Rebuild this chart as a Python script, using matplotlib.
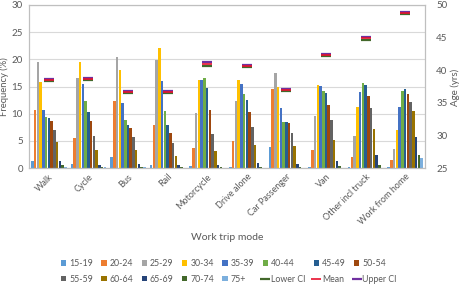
import matplotlib
matplotlib.use("Agg")
import matplotlib.pyplot as plt
import numpy as np

plt.rcParams['font.family'] = ['Lato', 'DejaVu Sans']

modes = ["Walk", "Cycle", "Bus", "Rail", "Motorcycle", "Drive alone",
         "Car Passenger", "Van", "Other incl truck", "Work from home"]
age_groups = ["15-19", "20-24", "25-29", "30-34", "35-39", "40-44", "45-49",
              "50-54", "55-59", "60-64", "65-69", "70-74", "75+"]

# frequency (%) per mode (rows) for each age group (columns)
walk      = [1.3, 10.7, 19.5, 15.8, 10.7, 9.3, 9.2, 8.7, 7.0, 4.7, 1.3, 0.5, 0.2]
cycle     = [0.7, 5.5, 16.5, 19.5, 15.4, 12.4, 10.3, 8.7, 5.9, 3.3, 0.5, 0.2, 0.1]
bus       = [2.0, 12.3, 20.4, 18.0, 11.9, 8.8, 7.9, 7.3, 5.7, 3.4, 0.8, 0.2, 0.1]
rail      = [0.5, 7.9, 19.9, 22.0, 16.1, 10.5, 8.0, 6.5, 4.6, 2.3, 0.5, 0.1, 0.05]
motorcycle = [0.3, 3.6, 10.2, 16.2, 16.2, 16.6, 14.8, 10.7, 6.2, 3.2, 0.5, 0.1, 0.05]
drive_alone = [0.2, 4.9, 12.3, 16.2, 15.5, 13.7, 12.5, 10.3, 7.5, 4.2, 1.0, 0.2, 0.05]
car_passenger = [3.8, 14.6, 17.4, 14.9, 11.0, 8.5, 8.4, 8.2, 6.5, 4.0, 0.8, 0.2, 0.05]
van       = [0.2, 3.4, 9.6, 15.2, 15.1, 14.2, 13.8, 11.6, 8.8, 5.2, 1.3, 0.3, 0.05]
other_truck = [0.1, 2.0, 5.9, 11.3, 14.0, 15.7, 15.3, 13.3, 11.0, 7.1, 2.4, 0.5, 0.05]
work_home = [0.2, 1.5, 3.5, 7.0, 11.2, 14.1, 14.6, 13.7, 12.2, 10.5, 5.7, 2.4, 1.9]

mean_age = [38.5, 38.7, 36.6, 36.7, 40.9, 40.7, 36.9, 42.3, 44.9, 48.8]
lower_ci = [38.35, 38.55, 36.45, 36.55, 40.6, 40.55, 36.75, 42.15, 44.65, 48.6]
upper_ci = [38.65, 38.85, 36.75, 36.85, 41.2, 40.85, 37.05, 42.45, 45.15, 49.0]

data = np.array([walk, cycle, bus, rail, motorcycle, drive_alone,
                 car_passenger, van, other_truck, work_home])

colors = ["#5B9BD5", "#ED7D31", "#A5A5A5", "#FFC000", "#4472C4", "#70AD47",
          "#255E91", "#9E480E", "#636363", "#997300", "#264478", "#43682B",
          "#7CAFDD"]

txt = "#595959"
fig = plt.figure(figsize=(4.69, 2.86), dpi=100)
ax = fig.add_axes([29/469, 1-168/286, (425-29)/469, (168-5)/286])
ax2 = ax.twinx()

n = len(age_groups)
x = np.arange(len(modes))
group_w = 0.9
w = group_w / n
bar_handles = []
for i in range(n):
    b = ax.bar(x - group_w/2 + w*(i+0.5), data[:, i], width=w*0.92,
               color=colors[i], label=age_groups[i], zorder=2)
    bar_handles.append(b)

ms = 6.5
l1, = ax2.plot(x, lower_ci, linestyle='none', marker='_', markersize=ms,
               markeredgewidth=1.6, color="#43682B", label="Lower CI", zorder=3)
l3, = ax2.plot(x, upper_ci, linestyle='none', marker='_', markersize=ms,
               markeredgewidth=1.6, color="#7030A0", label="Upper CI", zorder=3)
l2, = ax2.plot(x, mean_age, linestyle='none', marker='_', markersize=ms,
               markeredgewidth=1.2, color="#E8112D", label="Mean", zorder=4)

ax.set_ylim(0, 30)
ax.set_yticks(np.arange(0, 31, 5))
ax2.set_ylim(25, 50)
ax2.set_yticks(np.arange(25, 51, 5))
ax.set_xlim(-0.5, len(modes) - 0.5)
ax.grid(axis='y', color="#D9D9D9", linewidth=0.8, zorder=0)
ax.set_axisbelow(True)

ax.set_xticks(x)
ax.set_xticklabels(modes, rotation=45, ha='right', rotation_mode='anchor',
                   fontsize=6.5, color=txt)
ax.tick_params(axis='x', length=0, pad=3)
ax.tick_params(axis='y', length=0, labelsize=7, labelcolor=txt, pad=4.5)
ax2.tick_params(axis='y', length=0, labelsize=7, labelcolor=txt, pad=8)

for a in (ax, ax2):
    for s in a.spines.values():
        s.set_color("#BFBFBF")
        s.set_linewidth(0.8)

fig.text(4.5/469, 1-87/286, "Frequency (%)", rotation=90, ha='center',
         va='center', fontsize=6.8, color=txt)
fig.text(455/469, 1-87/286, "Age (yrs)", rotation=90, ha='center',
         va='center', fontsize=7, color=txt)
fig.text(227/469, 1-237/286, "Work trip mode", ha='center', va='center',
         fontsize=7.5, color=txt)

handles = bar_handles + [l1, l2, l3]
labels = age_groups + ["Lower CI", "Mean", "Upper CI"]
order = []
for c in range(8):
    order += [c, c + 8]
leg = fig.legend([handles[i] for i in order], [labels[i] for i in order],
                 ncol=8, loc='center', bbox_to_anchor=(0.488, 1-271.5/286),
                 frameon=False, fontsize=6.3, labelcolor=txt,
                 handlelength=0.6, handleheight=0.6, handletextpad=0.35,
                 columnspacing=0.95, labelspacing=0.75, borderpad=0)

fig.savefig("out.png", dpi=100)
